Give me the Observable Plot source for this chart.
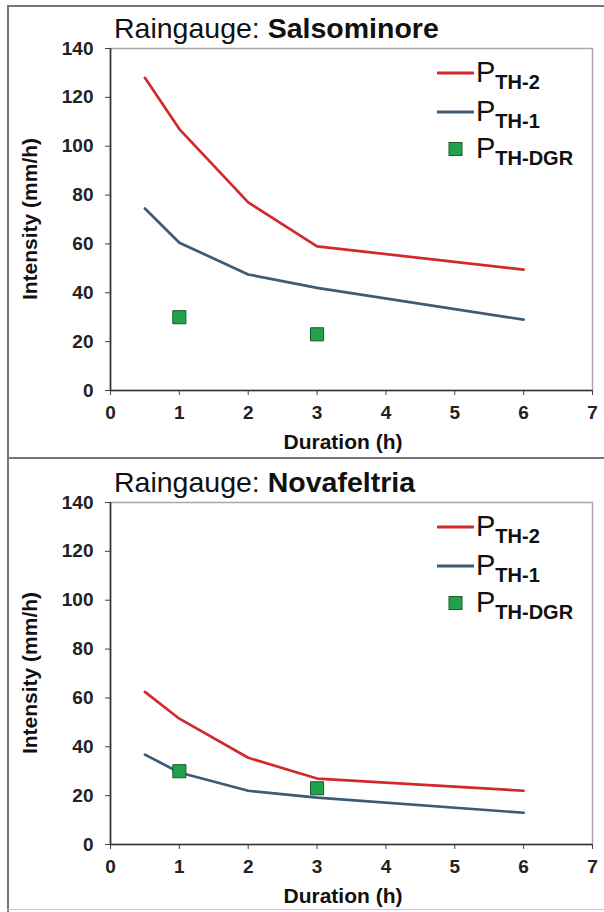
<!DOCTYPE html>
<html>
<head>
<meta charset="utf-8">
<script src="https://cdn.jsdelivr.net/npm/d3@7"></script>
<script src="https://cdn.jsdelivr.net/npm/@observablehq/plot@0.6"></script>
<style>
  html, body { margin: 0; padding: 0; background: #fff; }
  body { font-family: Arial, "Liberation Sans", sans-serif; }
  #fig { position: relative; width: 604px; height: 912px; overflow: hidden; background: #fff; }
  .panel { position: absolute; left: 0; width: 604px; height: 456px; }
  .panel svg.plot { position: absolute; left: 0; top: 0; }
  .title { position: absolute; left: 114px; font-size: 28.5px; color: #111; white-space: nowrap; line-height: 1; }
  .title b { font-weight: bold; }
  .ylab { position: absolute; left: 30px; width: 0; height: 0; }
  .ylab span { position: absolute; transform: translate(-50%, -50%) rotate(-90deg); white-space: nowrap; font-size: 21px; font-weight: bold; color: #111; }
  .xlab { position: absolute; width: 0; height: 0; }
  .xlab span { position: absolute; transform: translate(-50%, -50%); white-space: nowrap; font-size: 21px; font-weight: bold; color: #111; }
  .legend { position: absolute; left: 0; top: 0; overflow: visible; }
  .border { position: absolute; background: #777; }
</style>
</head>
<body>
<div id="fig"></div>
<script>
// ---- data ----
const durations = [0.5, 1, 2, 3, 6];
const salsoTH2 = [128, 107, 77, 59, 49.5];
const salsoTH1 = [74.5, 60.5, 47.5, 42, 29];
const novaTH2 = [62.5, 51.5, 35.5, 27, 22];
const novaTH1 = [36.8, 29.5, 22, 19.2, 13];
const dgrDurations = [1, 3];
const salsoDGR = [30, 23];
const novaDGR = [30, 23];
const xTicks = [0, 1, 2, 3, 4, 5, 6, 7];
const yTicks = [0, 20, 40, 60, 80, 100, 120, 140];
const seriesNames = ["TH-2", "TH-1", "TH-DGR"];
const stations = ["Salsominore", "Novafeltria"];

const RED = "#d12a2a";
const BLUE = "#3e5a74";
const GREEN = "#22a24c";
const GREEN_EDGE = "#1a5a2c";
const FONT = "Arial, 'Liberation Sans', sans-serif";

const fig = document.getElementById("fig");

function makePanel(top, station, th2, th1, dgr, mt, mb) {
  const panel = document.createElement("div");
  panel.className = "panel";
  panel.style.top = top + "px";
  fig.appendChild(panel);

  const plot = Plot.plot({
    width: 604,
    height: 456,
    marginTop: mt,
    marginBottom: mb,
    marginLeft: 110,
    marginRight: 12,
    x: { domain: [0, 7], ticks: xTicks },
    y: { domain: [0, 140], ticks: yTicks },
    style: { fontFamily: FONT, fontSize: "19px", fontWeight: "bold", color: "#222", background: "transparent", overflow: "visible" },
    marks: [
      Plot.frame({ stroke: "#a8a8a8", strokeWidth: 1.5 }),
      Plot.axisX({ ticks: xTicks, tickFormat: d3.format("d"), tickSize: 5, tickPadding: 10, label: null, stroke: "#444" }),
      Plot.axisY({ ticks: yTicks, tickFormat: d3.format("d"), tickSize: 5, tickPadding: 12, label: null, stroke: "#444" }),
      Plot.ruleY([0], { stroke: "#333", strokeWidth: 1.6 }),
      Plot.ruleX([0], { stroke: "#333", strokeWidth: 1.6 }),
      Plot.line(durations.map((d, i) => [d, th1[i]]), { stroke: BLUE, strokeWidth: 2.7 }),
      Plot.line(durations.map((d, i) => [d, th2[i]]), { stroke: RED, strokeWidth: 2.7 }),
      Plot.dot(dgrDurations.map((d, i) => [d, dgr[i]]), { symbol: "square", r: 7.4, fill: GREEN, stroke: GREEN_EDGE, strokeWidth: 1 })
    ]
  });
  plot.classList.add("plot");
  panel.appendChild(plot);

  const title = document.createElement("div");
  title.className = "title";
  title.style.top = (mt - 34) + "px";
  title.innerHTML = "Raingauge: <b>" + station + "</b>";
  panel.appendChild(title);

  const yl = document.createElement("div");
  yl.className = "ylab";
  yl.style.top = (mt + (456 - mt - mb) / 2) + "px";
  yl.innerHTML = "<span>Intensity (mm/h)</span>";
  panel.appendChild(yl);

  const xl = document.createElement("div");
  xl.className = "xlab";
  xl.style.left = "343px";
  xl.style.top = (456 - mb + 52) + "px";
  xl.innerHTML = "<span>Duration (h)</span>";
  panel.appendChild(xl);

  // legend (overlay, not data marks)
  const lg = d3.select(panel).append("svg").attr("class", "legend")
    .attr("width", 604).attr("height", 456);
  const base = mt - 48;
  const rows = [
    { kind: "line", color: RED, cy: 73, sub: seriesNames[0] },
    { kind: "line", color: BLUE, cy: 112, sub: seriesNames[1] },
    { kind: "square", color: GREEN, cy: 149, sub: seriesNames[2] }
  ];
  rows.forEach(r => {
    const cy = r.cy + base;
    if (r.kind === "line") {
      lg.append("line").attr("x1", 437).attr("x2", 474).attr("y1", cy).attr("y2", cy)
        .attr("stroke", r.color).attr("stroke-width", 3);
    } else {
      lg.append("rect").attr("x", 449).attr("y", cy - 6.5).attr("width", 13).attr("height", 13)
        .attr("fill", r.color).attr("stroke", GREEN_EDGE).attr("stroke-width", 1);
    }
    const t = lg.append("text").attr("x", 476).attr("y", cy + 9)
      .attr("font-family", FONT).attr("fill", "#111");
    t.append("tspan").attr("font-size", 29).text("P");
    t.append("tspan").attr("font-size", 20).attr("font-weight", "bold").attr("dy", 7).text(r.sub);
  });
}

makePanel(0, stations[0], salsoTH2, salsoTH1, salsoDGR, 48, 66);
makePanel(456, stations[1], novaTH2, novaTH1, novaDGR, 46, 68);

// figure borders
function border(l, t, w, h, c) {
  const b = document.createElement("div");
  b.className = "border";
  b.style.left = l + "px"; b.style.top = t + "px";
  b.style.width = w + "px"; b.style.height = h + "px";
  if (c) b.style.background = c;
  fig.appendChild(b);
}
border(7, 5, 597, 2);
border(7, 5, 2, 907);
border(7, 457, 597, 2);
border(7, 909, 597, 1, "#c8c8c8");
</script>
</body>
</html>
